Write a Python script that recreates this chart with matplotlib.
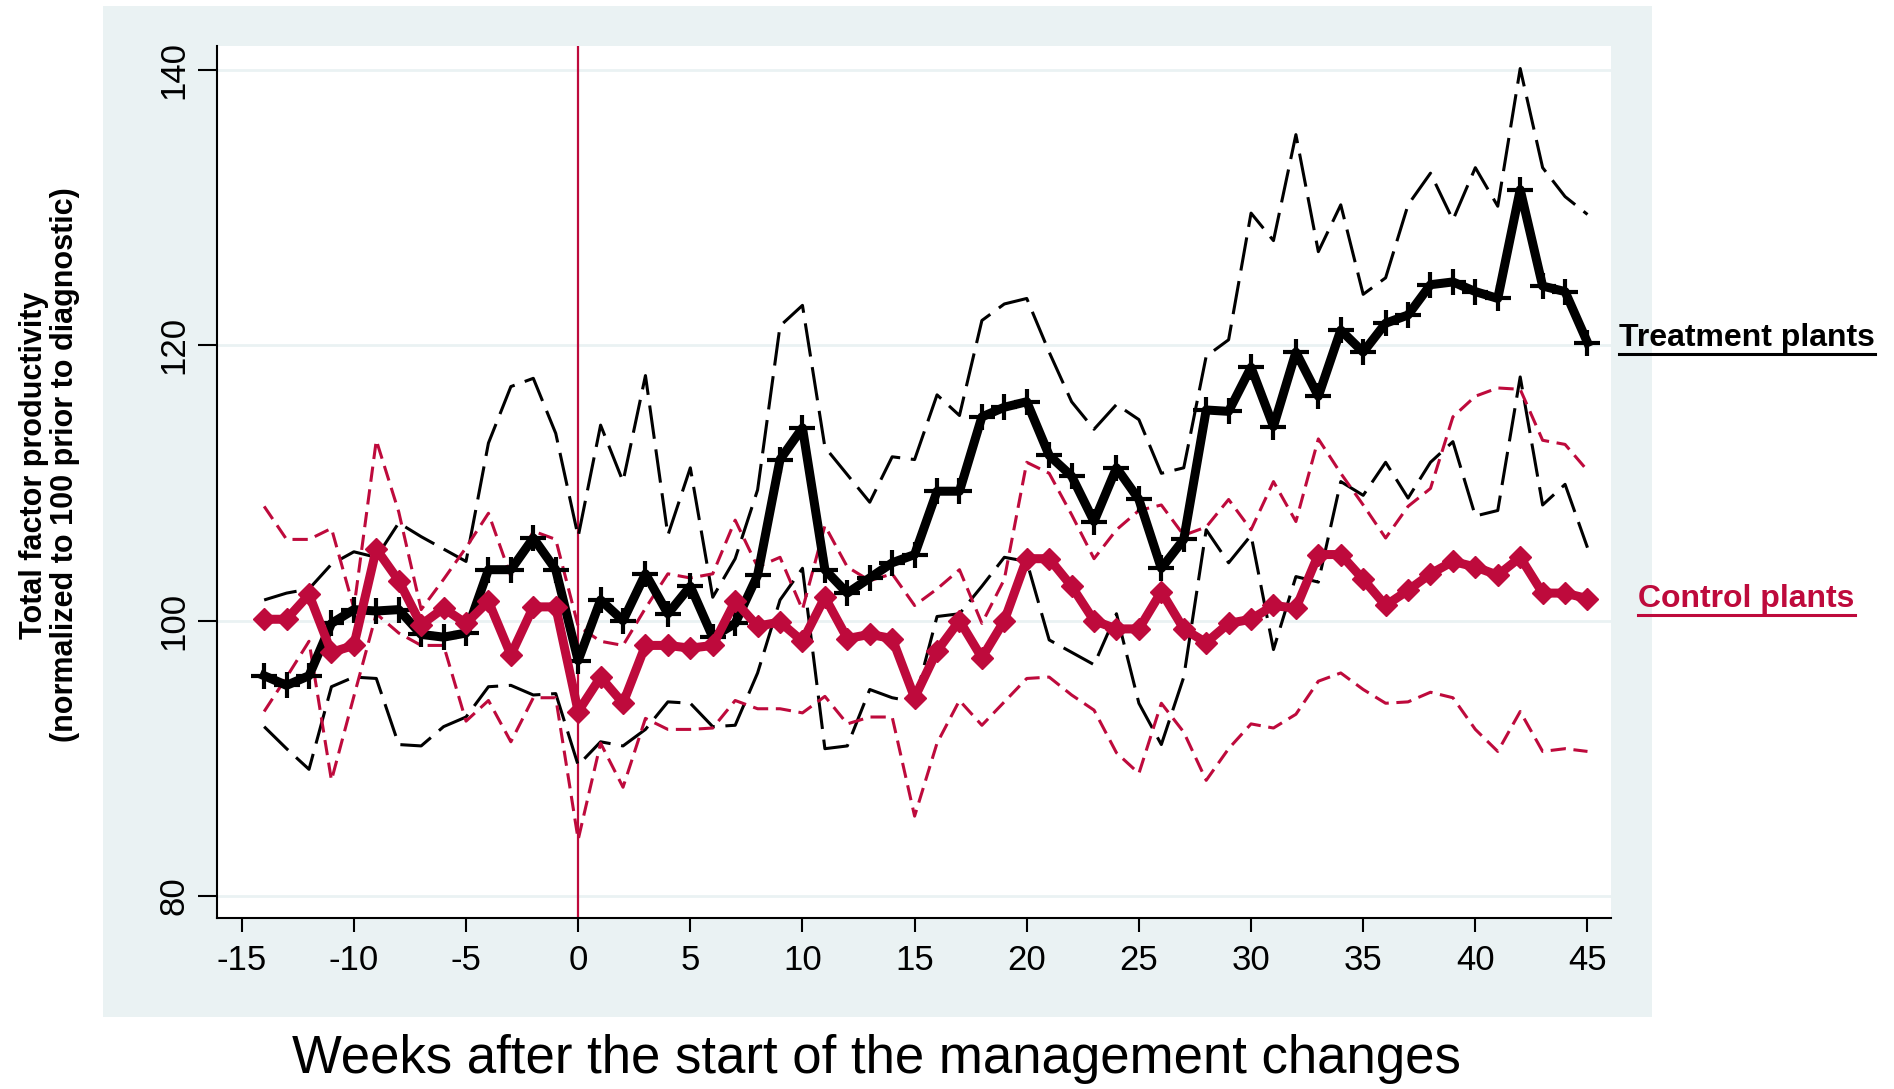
import matplotlib
matplotlib.use("Agg")
import matplotlib.pyplot as plt
from matplotlib.patches import Rectangle
from matplotlib.lines import Line2D

plt.rcParams['font.family'] = ['Liberation Sans', 'DejaVu Sans']

weeks = list(range(-14, 46))

# treatment plants: mean and confidence band
treat_mean = [96.0, 95.3, 96.0, 99.8, 100.8, 100.7, 100.8, 99.0, 98.8, 99.1, 103.7, 103.7, 106.0, 103.7, 97.1,
              101.5, 100.0, 103.4, 100.5, 102.5, 98.8, 99.8, 103.3, 111.7, 114.0, 103.7, 102.0, 103.1, 104.2, 104.8,
              109.4, 109.4, 114.8, 115.5, 115.9, 112.0, 110.5, 107.2, 111.1, 108.8, 103.8, 105.9, 115.3, 115.2, 118.4,
              114.1, 119.5, 116.3, 121.1, 119.5, 121.6, 122.2, 124.4, 124.6, 123.9, 123.4, 131.3, 124.3, 123.9, 120.2]
treat_hi = [101.5, 102.0, 102.3, 104.1, 105.0, 104.6, 107.1, 106.1, 105.2, 104.3, 112.9, 117.0, 117.6, 113.6, 106.1,
            114.2, 110.1, 117.8, 106.2, 111.1, 101.7, 104.5, 109.5, 121.4, 122.9, 112.6, 110.6, 108.6, 111.9, 111.7,
            116.4, 114.9, 121.8, 123.0, 123.4, 119.5, 115.9, 113.9, 115.7, 114.6, 110.7, 111.1, 119.2, 120.4, 129.6,
            127.6, 135.3, 126.8, 130.2, 123.7, 124.9, 130.2, 132.5, 129.1, 132.9, 130.1, 140.1, 132.9, 130.8, 129.5]
treat_lo = [92.3, 90.7, 89.2, 95.2, 95.9, 95.8, 91.0, 90.9, 92.3, 93.0, 95.2, 95.3, 94.6, 94.7, 89.5,
            91.2, 90.9, 92.1, 94.1, 94.0, 92.3, 92.4, 96.2, 101.5, 103.8, 90.7, 90.9, 95.0, 94.4, 94.1,
            100.3, 100.5, 102.5, 104.6, 104.3, 98.6, 97.7, 96.8, 100.5, 94.0, 91.0, 95.9, 106.6, 104.2, 106.2,
            97.9, 103.2, 102.8, 110.1, 109.1, 111.5, 108.9, 111.5, 113.0, 107.6, 108.0, 117.7, 108.4, 109.9, 105.3]

# control plants: mean and confidence band
ctrl_mean = [100.1, 100.1, 101.9, 97.7, 98.2, 105.2, 102.9, 99.7, 100.9, 99.8, 101.4, 97.5, 101.0, 101.0, 93.4,
             95.9, 94.0, 98.2, 98.2, 98.0, 98.2, 101.4, 99.6, 99.9, 98.5, 101.7, 98.7, 99.0, 98.7, 94.4,
             97.8, 100.0, 97.3, 100.0, 104.5, 104.5, 102.5, 100.0, 99.4, 99.4, 102.1, 99.4, 98.4, 99.8, 100.1,
             101.1, 100.9, 104.8, 104.8, 103.0, 101.1, 102.2, 103.4, 104.3, 103.9, 103.3, 104.6, 102.0, 102.0, 101.6]
ctrl_hi = [108.3, 105.9, 105.9, 106.7, 100.9, 113.1, 107.9, 100.8, 103.0, 105.3, 107.8, 103.2, 106.5, 105.9, 99.6,
           98.5, 98.2, 100.9, 103.4, 103.1, 103.4, 107.3, 103.9, 104.6, 100.8, 106.9, 103.9, 102.9, 103.4, 101.1,
           102.3, 103.7, 99.8, 103.0, 111.5, 110.7, 107.7, 104.5, 106.6, 108.0, 108.4, 106.2, 106.8, 108.8, 106.6,
           110.1, 107.2, 113.2, 110.7, 108.4, 106.0, 108.3, 109.6, 114.8, 116.3, 116.9, 116.8, 113.1, 112.8, 110.9]
ctrl_lo = [93.4, 95.9, 98.5, 88.4, 94.5, 100.5, 99.1, 98.2, 98.2, 92.7, 94.2, 91.2, 94.4, 94.4, 84.1,
           91.1, 87.9, 92.9, 92.1, 92.1, 92.2, 94.2, 93.6, 93.6, 93.3, 94.5, 92.5, 93.0, 93.0, 85.8,
           91.1, 94.2, 92.4, 94.1, 95.8, 95.9, 94.6, 93.5, 90.4, 88.9, 94.0, 91.9, 88.4, 90.7, 92.5,
           92.2, 93.2, 95.6, 96.2, 95.0, 94.0, 94.1, 94.8, 94.4, 92.1, 90.5, 93.4, 90.5, 90.7, 90.5]

xticks = [-15, -10, -5, 0, 5, 10, 15, 20, 25, 30, 35, 40, 45]
yticks = [80, 100, 120, 140]

red = '#BE0A3C'
bg = '#EAF2F3'

fig = plt.figure(figsize=(18.94, 10.89), dpi=100, facecolor='white')
bgrect = Rectangle((0.0544, 0.066), 0.8176, 0.9285, transform=fig.transFigure,
                   facecolor=bg, edgecolor='none', zorder=-10)
fig.add_artist(bgrect)
ax = fig.add_axes([0.1146, 0.157, 0.736, 0.8008])
ax.set_facecolor('white')

ax.axvline(0, color=red, lw=1.6, zorder=1)

ax.plot(weeks, treat_hi, color='black', lw=2.2, ls=(0, (11, 3.5)), zorder=2)
ax.plot(weeks, treat_lo, color='black', lw=2.2, ls=(0, (11, 3.5)), zorder=2)
ax.plot(weeks, ctrl_hi, color=red, lw=2.2, ls=(0, (5, 2.5)), zorder=2)
ax.plot(weeks, ctrl_lo, color=red, lw=2.2, ls=(0, (5, 2.5)), zorder=2)
ax.plot(weeks, treat_mean, color='black', lw=6.5, marker='+', ms=19, mew=3, zorder=3)
ax.plot(weeks, ctrl_mean, color=red, lw=6.5, marker='D', ms=11, mec=red, zorder=4)

ax.set_xlim(-16.1, 46.05)
ax.set_ylim(78.4, 141.74)
ax.set_xticks(xticks)
ax.set_yticks(yticks)
ax.set_xticklabels([str(t) for t in xticks], fontsize=25)
ax.set_yticklabels([str(t) for t in yticks], fontsize=25, rotation=90, va='center')
ax.tick_params(axis='y', length=14, width=1.5, pad=5)
ax.tick_params(axis='x', length=10, width=1.5, pad=9)
ax.grid(axis='y', color=bg, lw=2)
ax.set_axisbelow(True)
for s in ['top', 'right']:
    ax.spines[s].set_visible(False)
for s in ['left', 'bottom']:
    ax.spines[s].set_linewidth(1.5)

fig.text(0.026, 0.573, 'Total factor productivity\n(normalized to 100 prior to diagnostic)',
         fontsize=22, fontweight='bold', rotation=90, ha='center', va='center',
         multialignment='center', linespacing=1.05)
fig.text(0.463, 0.028, 'Weeks after the start of the management changes',
         fontsize=38, ha='center', va='center')

t1 = ax.text(46.4, treat_mean[-1] + 0.3, 'Treatment plants', fontsize=23, fontweight='bold',
             color='black', va='center', ha='left', clip_on=False)
t2 = ax.text(47.26, ctrl_mean[-1], 'Control plants', fontsize=23, fontweight='bold',
             color=red, va='center', ha='left', clip_on=False)

# underline the series labels
fig.canvas.draw()
r = fig.canvas.get_renderer()
W, H = fig.get_size_inches() * fig.dpi
for t, c in [(t1, 'black'), (t2, red)]:
    bb = t.get_window_extent(r)
    y = (bb.y0 - 1) / H
    fig.add_artist(Line2D([bb.x0 / W, bb.x1 / W], [y, y], color=c, lw=2.2, transform=fig.transFigure))

fig.savefig('out.png', dpi=100, facecolor='white')
